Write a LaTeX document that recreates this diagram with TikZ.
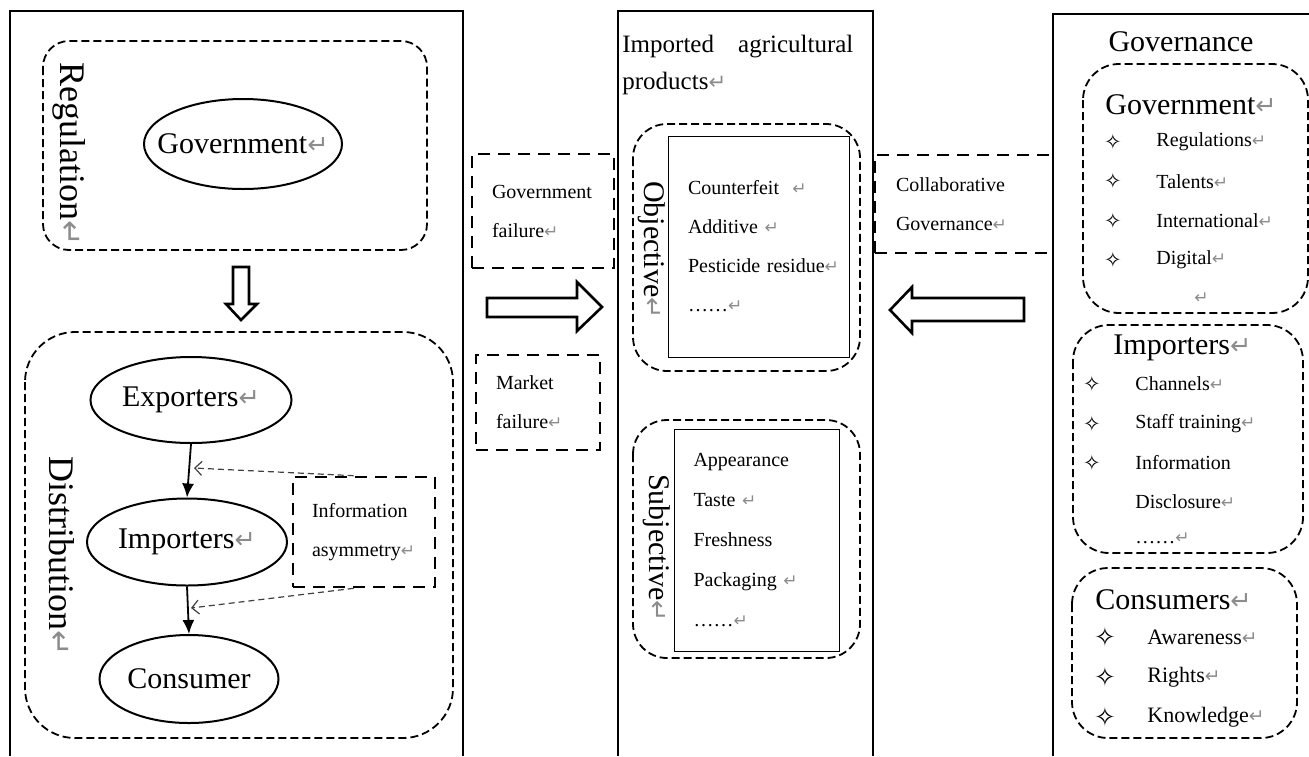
\documentclass[tikz,border=0pt]{standalone}
\usepackage{fontspec}
\usepackage{graphicx}
\setmainfont{Liberation Serif}
\newfontfamily\dejavu{DejaVu Sans}
\usetikzlibrary{shapes.geometric,arrows.meta}
\newcommand{\retmark}{\textcolor{black!45}{\scalebox{0.85}{\dejavu ↵}}}
\tikzset{
  framebox/.style={line width=1.4pt},
  groupbox/.style={line width=0.9pt, dash pattern=on 4pt off 2pt},
  notebox/.style={draw, line width=1.3pt, dash pattern=on 6pt off 4pt, align=left, font=\fontsize{10}{19.5}\selectfont},
  actorbox/.style={draw, ellipse, line width=1pt, inner xsep=-8pt, font=\fontsize{15}{18}\selectfont},
  sidelabel/.style={rotate=-90, font=\fontsize{15}{18}\selectfont},
  listbox/.style={draw, line width=0.5pt, align=left, font=\fontsize{10}{19.5}\selectfont},
  headtext/.style={anchor=west, font=\fontsize{15}{18}\selectfont},
  itemtext/.style={anchor=west, font=\fontsize{10}{12}\selectfont},
  bulletmark/.style={font=\dejavu\fontsize{10.5}{12}\selectfont},
  hollowarrow/.style={draw, line width=1.3pt, line join=miter},
  flow/.style={line width=0.9pt, -{Latex[length=7pt,width=6pt]}},
  infoline/.style={black!75, line width=0.6pt, dash pattern=on 3pt off 2pt, -{Straight Barb[length=3.5pt,width=7pt]}}
}
\begin{document}
\begin{tikzpicture}[x=0.5pt,y=-0.5pt,every node/.style={inner sep=0pt}]
\useasboundingbox (0,0) rectangle (1309,756);
\draw[framebox] (10,756) -- (10,11) -- (463,11) -- (463,756);
\draw[framebox] (618,756) -- (618,11) -- (873,11) -- (873,756);
\draw[framebox] (1309,14) -- (1053,14) -- (1053,756);

\draw[groupbox, rounded corners=13pt] (43,41) rectangle (427,250);
\node[sidelabel, font=\fontsize{18}{20}\selectfont] (reg) at (69,154) {Regulation\retmark};
\node[actorbox, minimum width=99pt, minimum height=45pt] (gov) at (243,144) {Government\retmark};
\draw[hollowarrow] (233,267) -- (249,267) -- (249,304) -- (257,304) -- (241,320) -- (226,304) -- (233,304) -- cycle;

\draw[groupbox, rounded corners=25pt] (25,332) rectangle (453,738);
\node[sidelabel, font=\fontsize{18}{20}\selectfont] (dis) at (62,556) {Distribution\retmark};
\node[actorbox, minimum width=100.5pt, minimum height=43pt] (exp) at (191,400) {Exporters\retmark};
\node[actorbox, minimum width=100pt, minimum height=43.5pt] (imp) at (187,542) {Importers\retmark};
\node[actorbox, minimum width=89.5pt, minimum height=44pt] (con) at (189,679) {Consumer};
\node[notebox, minimum width=71pt, minimum height=55pt, text width=52pt, inner xsep=9.5pt] (info) at (364,532) {Information\\asymmetry\retmark};
\draw[flow] (exp.south) -- (imp.north);
\draw[flow] (imp.south) -- (con.north);
\coordinate (hit1) at (194,468);
\coordinate (hit2) at (191,608);
\draw[infoline] ([xshift=31pt]info.north west) -- (hit1);
\draw[infoline] ([xshift=31pt]info.south west) -- (hit2);

\node[notebox, minimum width=71pt, minimum height=57pt, text width=51pt, inner xsep=10pt] (gfail) at (543,211) {Government\\failure\retmark};
\node[notebox, minimum width=62pt, minimum height=47.5pt, text width=42pt, inner xsep=10pt] (mfail) at (538,402.5) {Market\\failure\retmark};
\draw[hollowarrow] (487,298) -- (577,298) -- (577,282) -- (602,307) -- (577,331) -- (577,317) -- (487,317) -- cycle;

\node[anchor=north west, text width=115.5pt, align=justify, font=\fontsize{12.5}{18.5}\selectfont] (prod) at (622,35) {Imported agricultural products\retmark};
\draw[groupbox, rounded corners=17pt] (633,124) rectangle (860,371);
\node[sidelabel] (obj) at (652,250) {Objective\retmark};
\node[listbox, minimum width=90.5pt, minimum height=110.5pt, text width=70.5pt, inner xsep=10pt] (objlist) at (758.5,246.5) {Counterfeit\ \ \retmark\\Additive \retmark\\Pesticide~residue\retmark\\……\retmark};
\draw[groupbox, rounded corners=17pt] (633,420) rectangle (860,658);
\node[sidelabel] (subj) at (657,548) {Subjective\retmark};
\node[listbox, minimum width=82.5pt, minimum height=111pt, text width=63pt, inner xsep=9.5pt, font=\fontsize{10}{20}\selectfont] (subjlist) at (756.5,540) {Appearance\\Taste \retmark\\Freshness\\Packaging \retmark\\……\retmark};

\node[notebox, minimum width=89pt, minimum height=49pt, text width=68pt, inner xsep=10.5pt] (collab) at (964,204) {Collaborative\\Governance\retmark};
\draw[hollowarrow] (1024,298) -- (912,298) -- (912,287) -- (890,310) -- (912,333) -- (912,321) -- (1024,321) -- cycle;

\node[font=\fontsize{15}{18}\selectfont] (gvn) at (1181,42) {Governance};
\draw[groupbox, rounded corners=18pt] (1083,64) rectangle (1308,313);
\node[headtext] (govt) at (1105,105) {Government\retmark};
\foreach \t [count=\k] in {Regulations,Talents,International,Digital} {
\node[bulletmark] (gb\k) at (1113,{142+39.3*(\k-1)}) {✧};
\node[itemtext] (gi\k) at (1156,{142+39.3*(\k-1)}) {\t\retmark};
}
\node[itemtext] (gend) at (1194,298) {\retmark};

\draw[groupbox, rounded corners=18pt] (1073,325) rectangle (1303,553);
\node[headtext] (impt) at (1113,348) {Importers\retmark};
\foreach \t [count=\k] in {Channels\retmark,Staff training\retmark,Information} {
\node[bulletmark] (ib\k) at (1092,{384+39.5*(\k-1)}) {✧};
\node[itemtext] (ii\k) at (1135,{384+39.5*(\k-1)}) {\t};
}
\node[itemtext] (idis) at (1135,502) {Disclosure\retmark};
\node[itemtext] (iend) at (1135,538) {……\retmark};

\draw[groupbox, rounded corners=18pt] (1072,568) rectangle (1297,738);
\node[headtext] (cont) at (1095,600) {Consumers\retmark};
\foreach \t [count=\k] in {Awareness,Rights,Knowledge} {
\node[bulletmark, font=\dejavu\fontsize{13}{15}\selectfont] (cb\k) at (1105,{637+40*(\k-1)}) {✧};
\node[itemtext, font=\fontsize{11}{13}\selectfont] (ci\k) at (1147,{637+40*(\k-1)}) {\t\retmark};
}
\end{tikzpicture}
\end{document}
